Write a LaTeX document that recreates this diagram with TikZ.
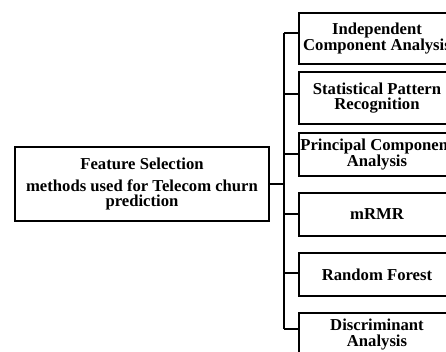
\documentclass[tikz,border=0pt]{standalone}
\usepackage{fontspec}
\setmainfont{Liberation Serif}
\begin{document}
\begin{tikzpicture}[x=0.75pt,y=-0.75pt,
  line width=1.2pt,
  box/.style={draw, line width=1.2pt, align=center, inner sep=0pt,
    font=\fontsize{12.5}{11.5}\selectfont\bfseries},
  method/.style={box, minimum width=156*0.75pt},
  wire/.style={line width=1.2pt}]
\useasboundingbox (0,0) rectangle (446,352);
\clip (0,0) rectangle (446,352);

% root box
\node[box, minimum width=254*0.75pt, minimum height=74*0.75pt] (root) at (142,184)
  {Feature Selection\\[5pt]methods used for Telecom churn\\prediction};

% method boxes
\node[method, minimum height=51*0.75pt] (m1) at (377,38.5) {Independent\\Component Analysis};
\node[method, minimum height=52*0.75pt] (m2) at (377,98) {Statistical Pattern\\Recognition};
\node[method, minimum height=43*0.75pt] (m3) at (377,154.5) {Principal Component\\Analysis};
\node[method, minimum height=43*0.75pt] (m4) at (377,214.5) {mRMR};
\node[method, minimum height=43*0.75pt] (m5) at (377,274.5) {Random Forest};
\node[method, minimum height=43*0.75pt] (m6) at (377,334.5) {Discriminant\\Analysis};

% spine and junctions
\coordinate (j0) at (284,184);
\coordinate (j1) at (284,33);
\coordinate (j2) at (284,94);
\coordinate (j3) at (284,154);
\coordinate (j4) at (284,214);
\coordinate (j5) at (284,273);
\coordinate (j6) at (284,329);

\draw[wire] (root.east |- j0) -- (j0);
\draw[wire] (j1) -- (j6);
\foreach \i in {1,...,6}{
  \draw[wire] (j\i) -- (j\i -| m\i.west);
}
\end{tikzpicture}
\end{document}
